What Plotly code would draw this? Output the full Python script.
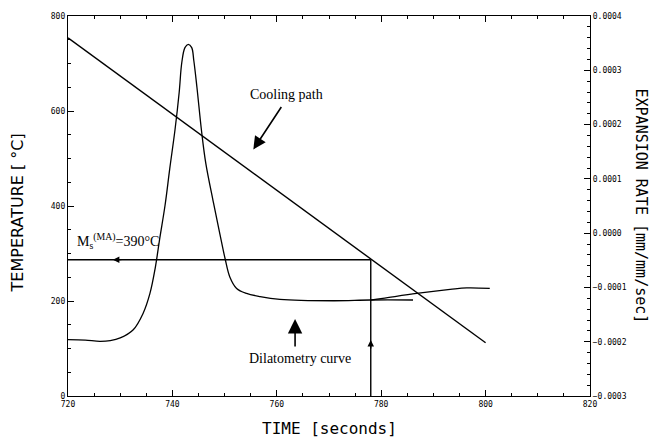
import plotly.graph_objects as go

# ---- data ----
cooling_time = [720, 800]
cooling_temp = [754, 112]

dil_time = [720.0, 723.3, 726.1, 728.1, 730.0, 732.5, 734.4, 735.7, 736.7, 737.6,
            738.6, 739.5, 740.5, 741.3, 741.8, 742.4, 743.05, 743.7, 744.1, 744.7,
            745.6, 746.4, 747.8, 749.1, 750.1, 751.0, 752.3, 754.2,
            756.8, 760.6, 770.8, 777.9, 786.1]
dil_rate = [-1.961, -1.970, -1.992, -1.979, -1.930, -1.779, -1.474, -1.110, -0.648, -0.083,
            0.518, 1.193, 1.904, 2.596, 3.143, 3.417, 3.477, 3.417, 3.180, 2.688,
            1.867, 1.284, 0.591, -0.016, -0.472, -0.807, -1.018, -1.110,
            -1.168, -1.219, -1.245, -1.232, -1.232]
dil_rate = [v * 1e-4 for v in dil_rate]

branch_time = [777.9, 780.3, 786.8, 793.2, 796.4, 800.8]
branch_rate = [-1.232, -1.201, -1.110, -1.037, -1.008, -1.018]
branch_rate = [v * 1e-4 for v in branch_rate]

ms_time = 778
ms_temp = 287

x_ticks = [720, 740, 760, 780, 800, 820]
y_ticks = [0, 200, 400, 600, 800]
y2_ticks = [-0.0003, -0.0002, -0.0001, 0.0, 0.0001, 0.0002, 0.0003, 0.0004]

LINE = dict(color="black", width=1.4)

fig = go.Figure()
fig.add_trace(go.Scatter(x=cooling_time, y=cooling_temp, mode="lines", line=LINE,
                         showlegend=False, hoverinfo="skip"))
fig.add_trace(go.Scatter(x=[x_ticks[0], ms_time], y=[ms_temp, ms_temp], mode="lines",
                         line=LINE, showlegend=False, hoverinfo="skip"))
fig.add_trace(go.Scatter(x=[ms_time, ms_time], y=[y_ticks[0], ms_temp], mode="lines",
                         line=LINE, showlegend=False, hoverinfo="skip"))
fig.add_trace(go.Scatter(x=dil_time, y=dil_rate, mode="lines", line=dict(color="black", width=1.3),
                         yaxis="y2", showlegend=False, hoverinfo="skip", line_shape="spline"))
fig.add_trace(go.Scatter(x=branch_time, y=branch_rate, mode="lines", line=dict(color="black", width=1.3),
                         yaxis="y2", showlegend=False, hoverinfo="skip", line_shape="spline"))

TICKFONT = dict(family="DejaVu Sans Mono", size=8, color="black")
SERIF = dict(family="Liberation Serif", size=14, color="black")

fig.update_layout(
    width=649, height=439,
    margin=dict(l=68, r=59, t=13, b=43),
    paper_bgcolor="white", plot_bgcolor="white",
    xaxis=dict(range=[720, 820], tickvals=x_ticks, ticks="inside", ticklen=6, tickwidth=1.2,
               tickcolor="black", showline=True, linecolor="black", linewidth=1.3,
               mirror="ticks", showgrid=False, zeroline=False, tickfont=TICKFONT,
               minor=dict(dtick=5, ticks="inside", ticklen=3, tickcolor="black", showgrid=False)),
    yaxis=dict(range=[0, 800], tickvals=y_ticks, ticks="inside", ticklen=6, tickwidth=1.2,
               tickcolor="black", showline=True, linecolor="black", linewidth=1.3,
               showgrid=False, zeroline=False, tickfont=TICKFONT,
               minor=dict(dtick=50, ticks="inside", ticklen=3, tickcolor="black", showgrid=False)),
    yaxis2=dict(range=[-0.0003, 0.0004], tickvals=y2_ticks, tickformat=".4f", overlaying="y",
                side="right", anchor="x", ticks="inside", ticklen=6, tickwidth=1.2,
                tickcolor="black", showline=True, linecolor="black", linewidth=1.3,
                showgrid=False, zeroline=False, tickfont=TICKFONT,
                minor=dict(dtick=0.00002, ticks="inside", ticklen=3, tickcolor="black", showgrid=False)),
)

annotations = [
    # axis titles
    dict(text="TIME [seconds]", xref="paper", yref="paper", x=(329 - 68) / 522, y=(396 - 429) / 383,
         showarrow=False, font=dict(family="DejaVu Sans Mono", size=16, color="black"),
         xanchor="center", yanchor="middle"),
    dict(text="TEMPERATURE [ °C]", xref="paper", yref="paper", x=(17 - 68) / 522, y=(396 - 212) / 383,
         showarrow=False, textangle=-90, font=dict(family="DejaVu Sans", size=16, color="black"),
         xanchor="center", yanchor="middle"),
    dict(text="EXPANSION RATE [mm/mm/sec]", xref="paper", yref="paper", x=(641 - 68) / 522,
         y=(396 - 204) / 383, showarrow=False, textangle=90,
         font=dict(family="DejaVu Sans Mono", size=15, color="black"),
         xanchor="center", yanchor="middle"),
    # labels
    dict(text="Cooling path", x=761.8, y=634, showarrow=False, font=SERIF,
         xanchor="center", yanchor="middle"),
    dict(text="Dilatometry curve", x=764.4, y=79, showarrow=False, font=SERIF,
         xanchor="center", yanchor="middle"),
    dict(text="M<sub>s</sub><sup>(MA)</sup>=390°C", x=721.3, y=326, showarrow=False, font=SERIF,
         xanchor="left", yanchor="middle"),
    # pointer arrows
    dict(text="", x=755.5, y=519, ax=29, ay=-44, showarrow=True, arrowhead=2, arrowsize=1.6,
         arrowwidth=1.6, arrowcolor="black"),
    dict(text="", x=763.5, y=162, ax=0, ay=29, showarrow=True, arrowhead=2, arrowsize=1.8,
         arrowwidth=1.6, arrowcolor="black"),
    # direction arrows on Ms lines
    dict(text="", x=728.6, y=ms_temp, ax=10, ay=0, showarrow=True, arrowhead=2, arrowsize=1.0,
         arrowwidth=1.3, arrowcolor="black", standoff=0),
    dict(text="", x=ms_time, y=118, ax=0, ay=10, showarrow=True, arrowhead=2, arrowsize=1.0,
         arrowwidth=1.3, arrowcolor="black", standoff=0),
]
fig.update_layout(annotations=annotations)

fig.write_html(
    "out.html",
    config={"displayModeBar": False},
    post_script="document.body.style.margin='0px';document.body.style.overflow='hidden';",
)
